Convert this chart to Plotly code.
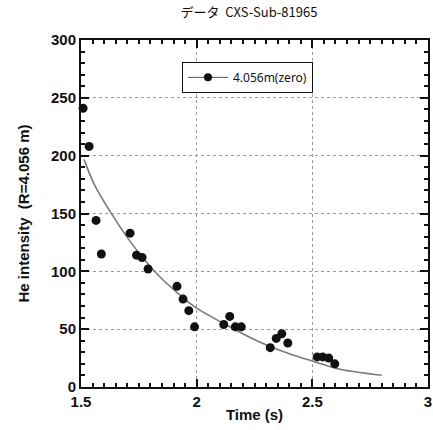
import plotly.graph_objects as go

# Measured points
time_s = [1.509, 1.535, 1.565, 1.588, 1.712, 1.740, 1.764, 1.790, 1.915, 1.941,
          1.966, 1.991, 2.117, 2.143, 2.167, 2.193, 2.318, 2.344, 2.368, 2.394,
          2.521, 2.545, 2.571, 2.597, 2.772]
he_intensity = [241, 208, 144, 115, 133, 114, 112, 102, 87, 76,
                66, 52, 54, 61, 52, 52, 34, 42, 46, 38,
                26, 26, 25, 20, -1]

# Fitted decay curve
fit_time = [1.513, 1.559, 1.631, 1.703, 1.775, 1.847, 1.919, 1.990, 2.115,
            2.260, 2.404, 2.509, 2.620, 2.800]
fit_value = [196.8, 174.6, 150.1, 128.5, 109.8, 94.0, 81.0, 69.5, 55.1,
             40.0, 28.5, 21.9, 15.3, 10.1]

legend_label = "4.056m(zero)"
title_text = "データ  CXS-Sub-81965"
x_title = "Time (s)"
y_title = "He intensity  (R=4.056 m)"
x_range = [1.5, 3]
y_range = [0, 300]

fig = go.Figure()
fig.add_trace(go.Scatter(x=fit_time, y=fit_value, mode="lines",
                         line=dict(color="#7a7a7a", width=1.6, shape="spline"),
                         showlegend=False, hoverinfo="skip"))
fig.add_trace(go.Scatter(x=time_s, y=he_intensity, mode="markers",
                         marker=dict(color="#111111", size=9),
                         showlegend=False, cliponaxis=False))
fig.add_trace(go.Scatter(x=[None], y=[None], mode="lines+markers",
                         name=legend_label, xaxis="x2", yaxis="y2",
                         line=dict(color="#555555", width=1),
                         marker=dict(color="#111111", size=8)))

tickfont = dict(family="Liberation Sans, Arial, sans-serif", size=15,
                color="#111111", weight="bold")
titlefont = dict(family="Liberation Sans, Arial, sans-serif", size=15,
                 color="#111111", weight="bold")

axis_common = dict(
    showline=True, linecolor="#111111", linewidth=2, mirror="ticks",
    ticks="inside", ticklen=8, tickwidth=2, tickcolor="#111111",
    showgrid=True, gridcolor="#9a9a9a", gridwidth=1, griddash="dot",
    zeroline=False, tickfont=tickfont, automargin=False,
)
minor_common = dict(
    showline=False, mirror="ticks", ticks="inside", ticklen=4, tickwidth=1.5,
    tickcolor="#111111", showgrid=False, zeroline=False,
    showticklabels=False, automargin=False,
)

fig.update_layout(
    template="none",
    xaxis=dict(range=x_range, tickmode="linear", tick0=1.5, dtick=0.5,
               title=dict(text=x_title, font=titlefont, standoff=0),
               **axis_common),
    yaxis=dict(range=y_range, tickmode="linear", tick0=0, dtick=50,
               title=dict(text=y_title, font=titlefont, standoff=18),
               **axis_common),
    xaxis2=dict(range=x_range, tickmode="linear", tick0=1.5, dtick=0.05,
                overlaying="x", anchor="y", **minor_common),
    yaxis2=dict(range=y_range, tickmode="linear", tick0=0, dtick=10,
                overlaying="y", anchor="x", **minor_common),
)

fig.update_layout(
    width=433, height=430,
    margin=dict(l=81, r=5, t=40, b=43, autoexpand=False),
    paper_bgcolor="white", plot_bgcolor="white",
    title=dict(text=title_text, x=0.575, xanchor="center", y=0.972, yanchor="middle",
               font=dict(family="Noto Sans CJK JP, sans-serif", size=13,
                         color="#111111")),
    legend=dict(x=0.291, y=0.937, xanchor="left", yanchor="top",
                bordercolor="#111111", borderwidth=1, bgcolor="white",
                font=dict(family="Noto Sans, sans-serif", size=12,
                          color="#111111"),
                itemwidth=40, tracegroupgap=0),
)

fig.write_html("out.html", config={"displayModeBar": False},
               post_script="document.body.style.margin='0px';document.body.style.overflow='hidden';")
